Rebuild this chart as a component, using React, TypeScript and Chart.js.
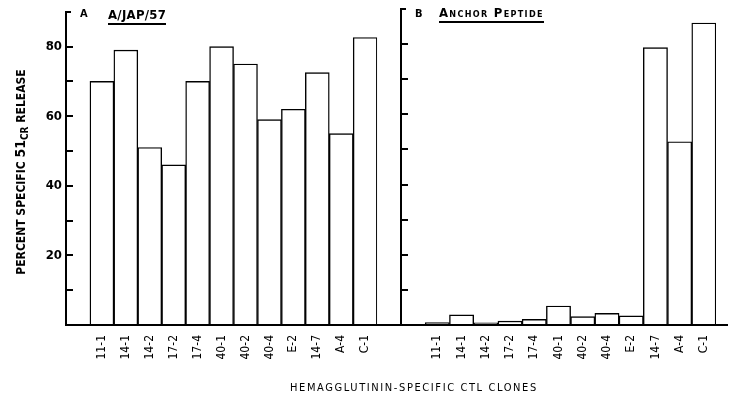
import React, { useEffect, useRef } from 'react';
import { Chart, registerables } from 'chart.js';

Chart.register(...registerables);

const clones = ['11-1', '14-1', '14-2', '17-2', '17-4', '40-1', '40-2', '40-4', 'E-2', '14-7', 'A-4', 'C-1'];
const japValues = [70, 79, 51, 46, 70, 80, 75, 59, 62, 72.5, 55, 82.6];
const anchorValues = [0.7, 2.9, 0.6, 1.1, 1.6, 5.4, 2.4, 3.3, 2.6, 79, 52.2, 86];
const labeledTicks = [20, 40, 60, 80];
const yMax = 90;
const yStep = 10;

const FONT = "'DejaVu Sans Condensed', 'Liberation Sans Narrow', 'DejaVu Sans', sans-serif";

type PanelOpts = {
  values: number[];
  yWidth: number;
  padRight: number;
  showYLabels: boolean;
  lineFrom: number | null;
  lineTo: number;
};

function makeChart(canvas: HTMLCanvasElement, o: PanelOpts) {
  const innerTicks = {
    id: 'innerTicks',
    afterDraw(chart: any) {
      const ctx = chart.ctx;
      const y = chart.scales.y;
      const area = chart.chartArea;
      ctx.save();
      ctx.strokeStyle = '#000';
      ctx.lineWidth = 2;
      for (let v = yStep; v <= yMax; v += yStep) {
        const py = Math.round(y.getPixelForValue(v));
        ctx.beginPath();
        ctx.moveTo(area.left, py);
        ctx.lineTo(area.left + (v === yMax ? 5 : 7), py);
        ctx.stroke();
      }
      ctx.beginPath();
      ctx.moveTo(o.lineFrom === null ? area.left : o.lineFrom, area.bottom);
      ctx.lineTo(o.lineTo, area.bottom);
      ctx.stroke();
      ctx.restore();
    },
  };

  return new Chart(canvas, {
    type: 'bar',
    data: {
      labels: ['', ...clones],
      datasets: [
        {
          data: [null, ...o.values] as any,
          backgroundColor: '#fff',
          borderColor: '#000',
          borderWidth: 1.4,
          categoryPercentage: 1,
          barPercentage: 1,
        },
      ],
    },
    options: {
      animation: false,
      responsive: false,
      devicePixelRatio: 1,
      layout: { padding: { top: 9, right: o.padRight, left: 0, bottom: 0 } },
      plugins: { legend: { display: false }, tooltip: { enabled: false } },
      scales: {
        x: {
          type: 'category',
          grid: { display: false, drawTicks: false },
          border: { display: true, color: '#000', width: 2 },
          ticks: {
            autoSkip: false,
            maxRotation: 90,
            minRotation: 90,
            padding: 10,
            color: '#000',
            font: { size: 12, family: FONT },
          },
          afterFit: (s: any) => {
            s.height = 77;
          },
        },
        y: {
          min: 0,
          max: yMax,
          grid: { display: false, drawTicks: false },
          border: { display: true, color: '#000', width: 2 },
          ticks: {
            display: o.showYLabels,
            stepSize: yStep,
            padding: 4,
            color: '#000',
            font: { size: 13, weight: 'bold', family: FONT },
            callback: (v: any) => (labeledTicks.includes(Number(v)) ? String(v) : ''),
          },
          afterFit: (s: any) => {
            s.width = o.yWidth;
          },
        },
      },
    } as any,
    plugins: [innerTicks],
  });
}

export default function App() {
  const refA = useRef<HTMLCanvasElement>(null);
  const refB = useRef<HTMLCanvasElement>(null);

  useEffect(() => {
    const a = makeChart(refA.current!, {
      values: japValues,
      yWidth: 66,
      padRight: 11,
      showYLabels: true,
      lineFrom: null,
      lineTo: 390,
    });
    const b = makeChart(refB.current!, {
      values: anchorValues,
      yWidth: 11,
      padRight: 13,
      showYLabels: false,
      lineFrom: 0,
      lineTo: 338,
    });
    return () => {
      a.destroy();
      b.destroy();
    };
  }, []);

  const bold: React.CSSProperties = { position: 'absolute', fontWeight: 'bold', color: '#000', whiteSpace: 'nowrap' };

  return (
    <div style={{ position: 'fixed', left: 0, top: 0, width: 729, height: 402, background: '#fff', fontFamily: FONT, overflow: 'hidden' }}>
      <canvas ref={refA} width={390} height={402} style={{ position: 'absolute', left: 0, top: 0, width: 390, height: 402 }} />
      <canvas ref={refB} width={339} height={402} style={{ position: 'absolute', left: 390, top: 0, width: 339, height: 402 }} />

      <div style={{ ...bold, left: 80, top: 7, fontSize: 11 }}>A</div>
      <div style={{ ...bold, left: 108, top: 8, fontSize: 13, lineHeight: '14px', borderBottom: '2px solid #000', paddingBottom: 1, letterSpacing: 0.3 }}>A/JAP/57</div>

      <div style={{ ...bold, left: 415, top: 7, fontSize: 11 }}>B</div>
      <div style={{ ...bold, left: 439, top: 6, fontSize: 13, lineHeight: '14px', fontVariant: 'small-caps', borderBottom: '2px solid #000', paddingBottom: 1, letterSpacing: 1.3 }}>Anchor Peptide</div>

      <div
        style={{
          ...bold,
          left: 20 - 110,
          top: 172 - 8,
          width: 220,
          height: 16,
          lineHeight: '16px',
          textAlign: 'center',
          fontSize: 12,
          transform: 'rotate(-90deg)',
          transformOrigin: 'center center',
        }}
      >
        PERCENT SPECIFIC <span style={{ fontSize: 14 }}>51</span><span style={{ fontSize: 10, position: 'relative', top: 3 }}>CR</span> RELEASE
      </div>

      <div style={{ ...bold, fontWeight: 'normal', left: 290, top: 381, fontSize: 11, letterSpacing: 1.6 }}>HEMAGGLUTININ-SPECIFIC CTL CLONES</div>
    </div>
  );
}
